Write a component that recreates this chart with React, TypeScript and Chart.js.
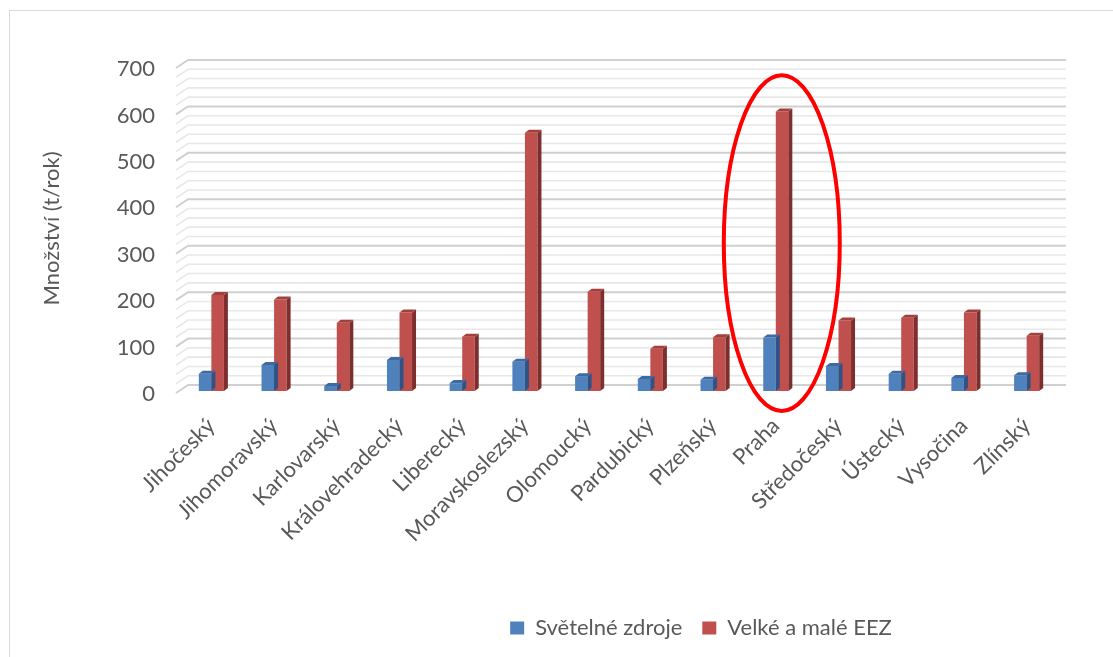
import { useEffect, useRef } from "react";
import { Chart, registerables } from "chart.js";

Chart.register(...registerables);

const categories = [
  "Jihočeský",
  "Jihomoravský",
  "Karlovarský",
  "Královehradecký",
  "Liberecký",
  "Moravskoslezský",
  "Olomoucký",
  "Pardubický",
  "Plzeňský",
  "Praha",
  "Středočeský",
  "Ústecký",
  "Vysočina",
  "Zlínský",
];
const svetelneZdroje = [37, 56, 11, 67, 17, 63, 32, 26, 24, 115, 54, 37, 28, 34];
const velkeMaleEEZ = [207, 197, 147, 169, 117, 556, 214, 91, 116, 602, 152, 158, 169, 119];
const seriesNames = ["Světelné zdroje", "Velké a malé EEZ"];
const yMin = 0;
const yMax = 700;
const yMajorStep = 100;
const yMinorStep = 20;
const highlightedCategory = "Praha";

const FONT = "Lato, 'Liberation Sans', sans-serif";
const FS = 22;
const TEXT = "#595959";
const frontColors = ["#4f81bd", "#c0504d"];
const topColors = ["#3e6aa3", "#a3403d"];
const sideColors = ["#2f5385", "#7e2f2d"];
const DX = 4;
const DY = 3;

const bar3d = {
  id: "bar3d",
  afterDatasetDraw(chart: any, args: any) {
    const meta = chart.getDatasetMeta(args.index);
    const ctx = chart.ctx;
    ctx.save();
    meta.data.forEach((el: any) => {
      const { x, y, base, width } = el.getProps(["x", "y", "base", "width"], true);
      const l = x - width / 2;
      const r = x + width / 2;
      ctx.fillStyle = sideColors[args.index];
      ctx.beginPath();
      ctx.moveTo(r, y);
      ctx.lineTo(r + DX, y - DY);
      ctx.lineTo(r + DX, base - DY);
      ctx.lineTo(r, base);
      ctx.closePath();
      ctx.fill();
      ctx.fillStyle = topColors[args.index];
      ctx.beginPath();
      ctx.moveTo(l, y);
      ctx.lineTo(l + DX, y - DY);
      ctx.lineTo(r + DX, y - DY);
      ctx.lineTo(r, y);
      ctx.closePath();
      ctx.fill();
    });
    ctx.restore();
  },
};

const wallGrid = {
  id: "wallGrid",
  beforeDatasetsDraw(chart: any) {
    const ctx = chart.ctx;
    const ys = chart.scales.y;
    const xs = chart.scales.x;
    ctx.save();
    for (let v = yMin; v <= yMax; v += yMinorStep) {
      const yp = ys.getPixelForValue(v);
      const major = v % yMajorStep === 0;
      ctx.strokeStyle = major ? "#d0d0d0" : "#e8e8e8";
      ctx.lineWidth = major ? 2 : 1.6;
      ctx.beginPath();
      ctx.moveTo(xs.left - 4, yp + 2);
      ctx.lineTo(xs.left + 8, yp - 6);
      ctx.lineTo(xs.right + 8, yp - 6);
      ctx.stroke();
    }
    ctx.restore();
  },
};

const highlight = {
  id: "highlight",
  afterDraw(chart: any) {
    const ctx = chart.ctx;
    const xs = chart.scales.x;
    const ys = chart.scales.y;
    const i = categories.indexOf(highlightedCategory);
    const cx = xs.getPixelForValue(i) + 6;
    const top = ys.getPixelForValue(680);
    const bottom = ys.getPixelForValue(-43);
    const cy = (top + bottom) / 2;
    const ry = (bottom - top) / 2;
    const rx = 58;
    ctx.save();
    ctx.strokeStyle = "#ff0000";
    ctx.lineWidth = 4;
    ctx.beginPath();
    ctx.ellipse(cx, cy, rx, ry, 0, 0, Math.PI * 2);
    ctx.stroke();
    ctx.restore();
  },
};

export default function App() {
  const ref = useRef<HTMLCanvasElement>(null);
  useEffect(() => {
    if (!ref.current) return;
    const chart = new Chart(ref.current, {
      type: "bar",
      data: {
        labels: categories,
        datasets: [
          {
            label: seriesNames[0],
            data: svetelneZdroje,
            backgroundColor: frontColors[0],
            borderWidth: 0,
          },
          {
            label: seriesNames[1],
            data: velkeMaleEEZ,
            backgroundColor: frontColors[1],
            borderWidth: 0,
          },
        ],
      },
      plugins: [wallGrid, bar3d, highlight],
      options: {
        responsive: false,
        animation: false,
        layout: { padding: { top: 66, left: 0, right: 0, bottom: 8 } },
        datasets: { bar: { categoryPercentage: 0.4, barPercentage: 1 } },
        plugins: {
          tooltip: { enabled: false },
          legend: {
            position: "bottom",
            labels: {
              font: { family: FONT, size: FS },
              color: TEXT,
              boxWidth: 14,
              boxHeight: 13,
              padding: 20,
            },
          },
        },
        scales: {
          x: {
            grid: { display: false, drawTicks: false },
            border: { display: false },
            ticks: {
              autoSkip: false,
              maxRotation: 45,
              minRotation: 45,
              padding: 22,
              color: TEXT,
              font: { family: FONT, size: FS },
            },
            afterFit(s: any) {
              s.height = 206;
            },
          },
          y: {
            min: yMin,
            max: yMax,
            grid: { display: false, drawTicks: false },
            border: { display: false },
            ticks: {
              stepSize: yMajorStep,
              padding: 25,
              labelOffset: 3,
              color: TEXT,
              font: { family: FONT, size: FS },
            },
            title: {
              display: true,
              text: "Množství (t/rok)",
              color: TEXT,
              font: { family: FONT, size: FS },
              padding: { top: 39, bottom: 0 },
            },
            afterFit(s: any) {
              s.width = 180;
            },
          },
          y2: {
            position: "right",
            display: true,
            grid: { display: false, drawTicks: false },
            border: { display: false },
            ticks: { display: false },
            afterFit(s: any) {
              s.width = 1402 - 1058;
            },
          },
        },
      },
    });
    return () => chart.destroy();
  }, []);

  return (
    <div
      style={{
        position: "fixed",
        left: 0,
        top: 0,
        width: 1113,
        height: 657,
        overflow: "hidden",
        background: "#ffffff",
      }}
    >
      <div
        style={{
          position: "absolute",
          left: 9,
          top: 10,
          width: 1200,
          height: 700,
          borderTop: "1px solid #d9d9d9",
          borderLeft: "1px solid #d9d9d9",
        }}
      />
      <div style={{ position: "absolute", left: 0, top: 0, width: 1402, height: 657 }}>
        <canvas ref={ref} width={1402} height={657} style={{ display: "block" }} />
      </div>
    </div>
  );
}
